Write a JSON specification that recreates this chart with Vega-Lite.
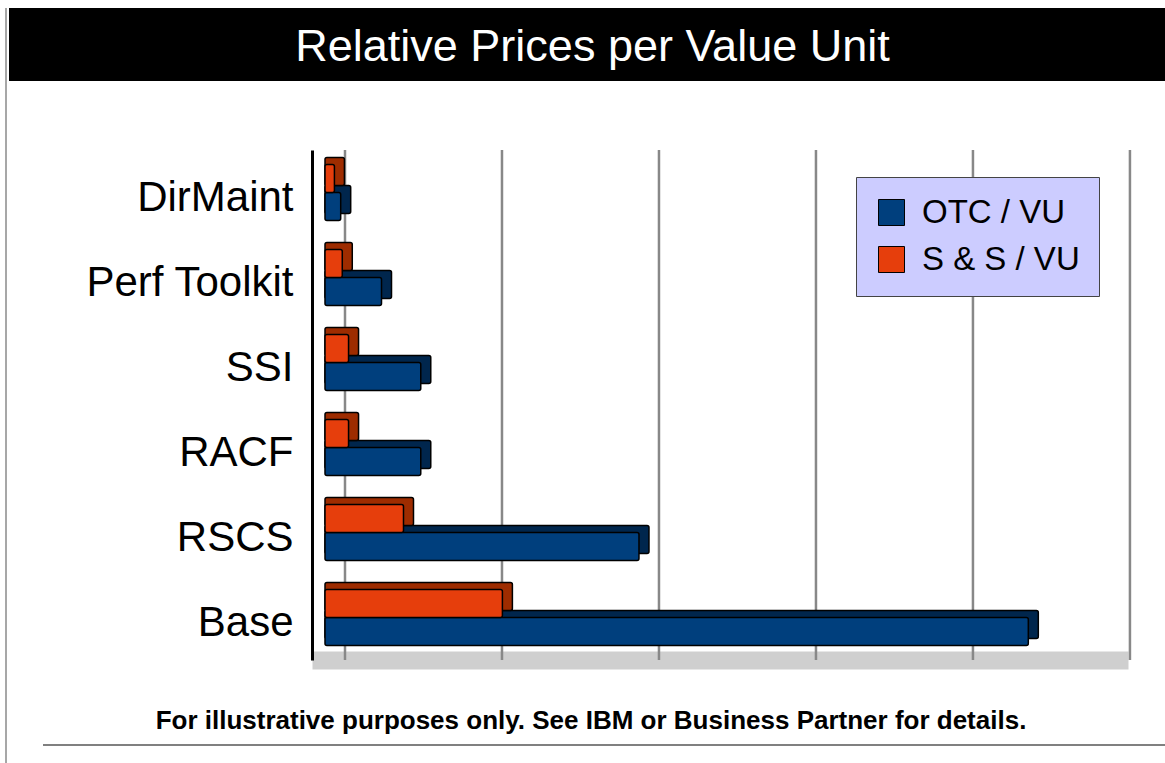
{
  "$schema": "https://vega.github.io/schema/vega-lite/v6.json",
  "padding": {"left": 5, "top": 7, "right": 0, "bottom": 0},
  "background": "white",
  "spacing": 0,
  "resolve": {"scale": {"color": "independent"}, "legend": {"color": "independent"}},
  "config": {"font": "Liberation Sans", "view": {"stroke": null}},
  "datasets": {
    "prices": [
      {"product": "DirMaint", "series": "OTC / VU", "value": 0.1},
      {"product": "DirMaint", "series": "S & S / VU", "value": 0.06},
      {"product": "Perf Toolkit", "series": "OTC / VU", "value": 0.36},
      {"product": "Perf Toolkit", "series": "S & S / VU", "value": 0.11},
      {"product": "SSI", "series": "OTC / VU", "value": 0.61},
      {"product": "SSI", "series": "S & S / VU", "value": 0.15},
      {"product": "RACF", "series": "OTC / VU", "value": 0.61},
      {"product": "RACF", "series": "S & S / VU", "value": 0.15},
      {"product": "RSCS", "series": "OTC / VU", "value": 2.0},
      {"product": "RSCS", "series": "S & S / VU", "value": 0.5},
      {"product": "Base", "series": "OTC / VU", "value": 4.48},
      {"product": "Base", "series": "S & S / VU", "value": 1.13}
    ],
    "gridTicks": [
      {"value": 0}, {"value": 1}, {"value": 2}, {"value": 3}, {"value": 4}, {"value": 5}
    ]
  },
  "hconcat": [
    {
      "width": 1,
      "height": 756,
      "view": {"stroke": "#8a8a8a", "strokeWidth": 1.5, "fill": null, "strokeDash": [0, 758, 756]},
      "data": {"values": []},
      "mark": {"type": "text"},
      "encoding": {}
    },
    {
      "spacing": 67,
      "resolve": {"scale": {"color": "independent"}, "legend": {"color": "independent"}},
      "vconcat": [
        {
          "width": 1159,
          "height": 73,
          "view": {"fill": "black", "stroke": null},
          "data": {"values": [{"heading": "Relative Prices per Value Unit"}]},
          "mark": {"type": "text", "color": "white", "fontSize": 45, "font": "Liberation Sans", "baseline": "middle", "dx": 4, "dy": 2},
          "encoding": {"text": {"field": "heading", "type": "nominal"}}
        },
        {
          "spacing": 38,
          "resolve": {"scale": {"color": "independent"}, "legend": {"color": "independent"}},
          "vconcat": [
            {
              "spacing": 0,
              "resolve": {"scale": {"color": "independent"}, "legend": {"color": "independent"}},
              "hconcat": [
                {
                  "width": 303,
                  "height": 510,
                  "data": {"name": "prices"},
                  "transform": [{"filter": "datum.series === 'OTC / VU'"}],
                  "mark": {"type": "text", "align": "right", "baseline": "middle", "fontSize": 42, "color": "black", "font": "Liberation Sans", "dx": 133, "dy": 5},
                  "encoding": {
                    "y": {
                      "field": "product",
                      "type": "nominal",
                      "sort": ["DirMaint", "Perf Toolkit", "SSI", "RACF", "RSCS", "Base"],
                      "scale": {"paddingInner": 0, "paddingOuter": 0},
                      "axis": null
                    },
                    "text": {"field": "product", "type": "nominal"}
                  }
                },
                {
                  "width": 816,
                  "height": 510,
                  "encoding": {
                    "x": {
                      "field": "value",
                      "type": "quantitative",
                      "stack": null,
                      "scale": {"domain": [-0.0828, 5.115], "nice": false, "zero": false},
                      "axis": {
                        "orient": "bottom",
                        "domain": true,
                        "domainColor": "#cfcfcf",
                        "domainWidth": 18,
                        "labels": false,
                        "ticks": false,
                        "grid": false,
                        "title": null
                      }
                    }
                  },
                  "layer": [
                    {
                      "data": {"name": "gridTicks"},
                      "mark": {"type": "rule", "color": "#888888", "strokeWidth": 2.5, "xOffset": 20}
                    },
                    {
                      "data": {"name": "prices"},
                      "encoding": {
                        "y": {
                          "field": "product",
                          "type": "nominal",
                          "sort": ["DirMaint", "Perf Toolkit", "SSI", "RACF", "RSCS", "Base"],
                          "scale": {"paddingInner": 0, "paddingOuter": 0},
                          "axis": {
                            "title": null,
                            "domain": true,
                            "domainColor": "black",
                            "domainWidth": 3,
                            "ticks": false,
                            "labels": false,
                            "grid": false,
                            "minExtent": 0,
                            "maxExtent": 0
                          }
                        }
                      },
                      "layer": [
                        {
                          "transform": [{"filter": "datum.series === 'OTC / VU'"}],
                          "mark": {"type": "bar", "height": 28, "yOffset": 7, "xOffset": 10, "x2Offset": 10, "color": "#00264d", "stroke": "black", "strokeWidth": 1.5, "cornerRadius": 2}
                        },
                        {
                          "transform": [{"filter": "datum.series === 'OTC / VU'"}],
                          "mark": {"type": "bar", "height": 28, "yOffset": 14, "stroke": "black", "strokeWidth": 1.5, "cornerRadius": 2},
                          "encoding": {
                            "color": {
                              "field": "series",
                              "type": "nominal",
                              "scale": {"domain": ["OTC / VU", "S & S / VU"], "range": ["#003f7d", "#e63e0c"]},
                              "legend": {
                                "title": null,
                                "orient": "none",
                                "legendX": 544,
                                "legendY": 27,
                                "symbolType": "square",
                                "symbolSize": 676,
                                "symbolStrokeColor": "black",
                                "symbolStrokeWidth": 1,
                                "symbolOpacity": 1,
                                "labelFontSize": 33,
                                "labelColor": "black",
                                "labelOffset": 14,
                                "rowPadding": 13,
                                "padding": 19,
                                "fillColor": "#ccccff",
                                "strokeColor": "#444444"
                              }
                            }
                          }
                        },
                        {
                          "transform": [{"filter": "datum.series === 'S & S / VU'"}],
                          "mark": {"type": "bar", "height": 28, "yOffset": -21, "xOffset": 10, "x2Offset": 10, "color": "#9e2c00", "stroke": "black", "strokeWidth": 1.5, "cornerRadius": 2}
                        },
                        {
                          "transform": [{"filter": "datum.series === 'S & S / VU'"}],
                          "mark": {"type": "bar", "height": 28, "yOffset": -14, "stroke": "black", "strokeWidth": 1.5, "cornerRadius": 2},
                          "encoding": {
                            "color": {
                              "field": "series",
                              "type": "nominal",
                              "scale": {"domain": ["OTC / VU", "S & S / VU"], "range": ["#003f7d", "#e63e0c"]},
                              "legend": {
                                "title": null,
                                "orient": "none",
                                "legendX": 544,
                                "legendY": 27,
                                "symbolType": "square",
                                "symbolSize": 676,
                                "symbolStrokeColor": "black",
                                "symbolStrokeWidth": 1,
                                "symbolOpacity": 1,
                                "labelFontSize": 33,
                                "labelColor": "black",
                                "labelOffset": 14,
                                "rowPadding": 13,
                                "padding": 19,
                                "fillColor": "#ccccff",
                                "strokeColor": "#444444"
                              }
                            }
                          }
                        }
                      ]
                    }
                  ]
                }
              ]
            },
            {
              "width": 1170,
              "height": 44,
              "view": {"stroke": "#808080", "strokeWidth": 2, "fill": null, "strokeDash": [0, 1214, 1136, 78]},
              "data": {"values": [{"note": "For illustrative purposes only. See IBM or Business Partner for details."}]},
              "mark": {"type": "text", "color": "black", "fontSize": 26, "fontWeight": "bold", "font": "Liberation Sans", "baseline": "middle", "dx": -3, "dy": -2},
              "encoding": {"text": {"field": "note", "type": "nominal"}}
            }
          ]
        }
      ]
    }
  ]
}
